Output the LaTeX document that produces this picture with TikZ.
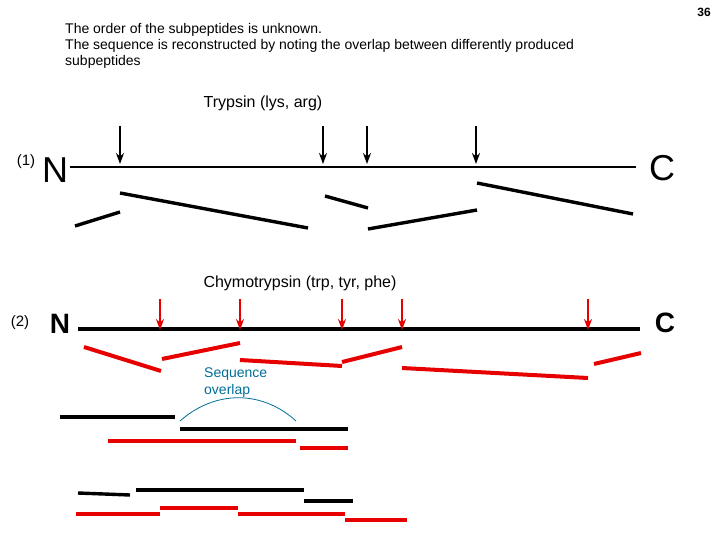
\documentclass[tikz,border=0pt]{standalone}
\usetikzlibrary{arrows.meta}
\usepackage{fontspec}
\setmainfont{Liberation Sans}
\definecolor{myred}{RGB}{230,0,0}
\definecolor{myteal}{RGB}{0,110,150}
\begin{document}
\begin{tikzpicture}[x=1pt,y=-1pt,
  txt/.style={anchor=west,inner sep=0pt,font=\fontsize{14}{16}\selectfont},
  blk/.style={line width=3.4pt},
  red/.style={line width=4pt,draw=myred},
  barrow/.style={line width=2.4pt,-{Stealth[length=11pt,width=8pt]}},
  rarrow/.style={line width=2.4pt,draw=myred,-{Stealth[length=11pt,width=8pt]}}]
\useasboundingbox (0,0) rectangle (720,540);
\node[font=\bfseries\fontsize{12}{14}\selectfont] (pg) at (704,12) {36};
\node[txt] (t1) at (65,30) {The order of the subpeptides is unknown.};
\node[txt] (t2) at (65,46) {The sequence is reconstructed by noting the overlap between differently produced};
\node[txt] (t3) at (65,62) {subpeptides};
\node[font=\fontsize{16}{18}\selectfont] (tr) at (263,103) {Trypsin (lys, arg)};
\node[font=\fontsize{15}{16}\selectfont] (l1) at (26,162) {(1)};
\node[font=\fontsize{36}{38}\selectfont] (n1) at (55,170) {N};
\node[font=\fontsize{36}{38}\selectfont] (c1) at (662,168) {C};
\draw[line width=2.8pt] (70,167) -- (636,167);
\foreach \x in {120,323,367,476} \draw[barrow] (\x,126) -- (\x,164);
\draw[blk] (75,226) -- (120,212);
\draw[blk] (120,193) -- (308,228);
\draw[blk] (325,196) -- (368,208);
\draw[blk] (368,229) -- (477,210);
\draw[blk] (477,183) -- (633,214);
\node[font=\fontsize{16}{18}\selectfont] (ch) at (300,283) {Chymotrypsin (trp, tyr, phe)};
\node[font=\fontsize{15}{16}\selectfont] (l2) at (20,323) {(2)};
\node[font=\bfseries\fontsize{28}{30}\selectfont] (n2) at (60,324) {N};
\node[font=\bfseries\fontsize{28}{30}\selectfont] (c2) at (665,323) {C};
\draw[line width=4pt] (78,329) -- (640,329);
\foreach \x in {160,240,342,402,588} \draw[rarrow] (\x,299) -- (\x,330);
\draw[red] (84,347) -- (161,371);
\draw[red] (162,359) -- (240,343);
\draw[red] (240,360) -- (342,366);
\draw[red] (342,362) -- (402,347);
\draw[red] (402,368) -- (588,378);
\draw[red] (594,364) -- (641,353);
\node[txt,text=myteal,font=\fontsize{14}{17}\selectfont,align=left,anchor=north west] (so) at (204,368) {Sequence\\overlap};
\draw[myteal,line width=0.8pt] (180,421) .. controls (215,390) and (262,390) .. (296,421);
\draw[blk] (60,417) -- (175,417);
\draw[blk] (180,429) -- (348,429);
\draw[red] (108,441) -- (296,441);
\draw[red] (300,448) -- (348,448);
\draw[blk] (78,493) -- (130,495);
\draw[blk] (136,490) -- (304,490);
\draw[blk] (304,501) -- (353,501);
\draw[red] (76,514) -- (160,514);
\draw[red] (160,508) -- (238,508);
\draw[red] (238,514) -- (345,514);
\draw[red] (345,520) -- (407,520);
\end{tikzpicture}
\end{document}
